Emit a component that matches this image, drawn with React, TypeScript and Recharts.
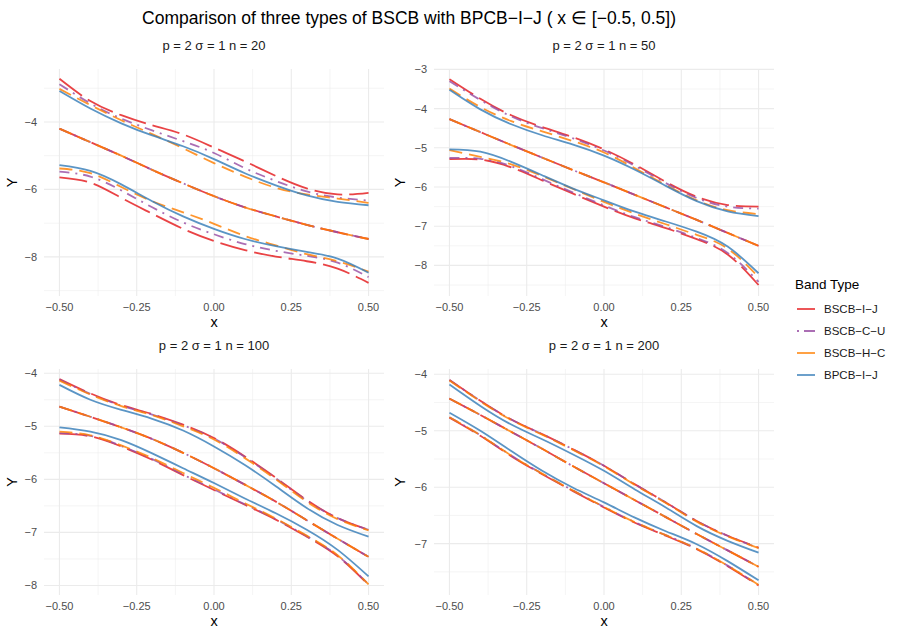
import React from 'react';
import { LineChart, Line, XAxis, YAxis, CartesianGrid } from 'recharts';

const FONT = '"Liberation Sans", Arial, Helvetica, sans-serif';
const MINUS = '\u2212';

const XS = [-0.5, -0.4, -0.3, -0.2, -0.1, 0, 0.1, 0.2, 0.3, 0.4, 0.5];
const X_TICKS = [-0.5, -0.25, 0, 0.25, 0.5];
const X_MINOR = [-0.375, -0.125, 0.125, 0.375];

// n = 20
const N20_CENTER = [-4.2, -4.6, -5.0, -5.42, -5.82, -6.2, -6.53, -6.8, -7.05, -7.27, -7.47];
const N20_IJ_UP = [-2.72, -3.38, -3.8, -4.1, -4.37, -4.76, -5.17, -5.6, -5.97, -6.15, -6.1];
const N20_IJ_LO = [-5.64, -5.8, -6.25, -6.72, -7.17, -7.53, -7.8, -7.99, -8.13, -8.35, -8.77];
const N20_CU_UP = [-2.88, -3.45, -3.9, -4.25, -4.57, -4.92, -5.37, -5.75, -6.06, -6.24, -6.33];
const N20_CU_LO = [-5.47, -5.62, -6.03, -6.53, -6.98, -7.33, -7.62, -7.82, -7.97, -8.17, -8.6];
const N20_HC_UP = [-3.02, -3.5, -3.95, -4.36, -4.78, -5.22, -5.62, -5.95, -6.15, -6.27, -6.4];
const N20_HC_LO = [-5.38, -5.52, -5.93, -6.35, -6.68, -7.02, -7.38, -7.66, -7.92, -8.13, -8.44];
const N20_BP_UP = [-3.08, -3.6, -4.04, -4.4, -4.72, -5.1, -5.52, -5.88, -6.18, -6.37, -6.47];
const N20_BP_LO = [-5.28, -5.45, -5.85, -6.35, -6.8, -7.17, -7.47, -7.68, -7.85, -8.05, -8.47];

// n = 50
const N50_CENTER = [-4.27, -4.6, -4.93, -5.25, -5.57, -5.88, -6.2, -6.52, -6.84, -7.17, -7.5];
const N50_IJ_UP = [-3.25, -3.75, -4.17, -4.47, -4.73, -5.04, -5.43, -5.87, -6.25, -6.46, -6.5];
const N50_IJ_LO = [-5.29, -5.3, -5.5, -5.83, -6.17, -6.5, -6.8, -7.05, -7.33, -7.72, -8.5];
const N50_CU_UP = [-3.3, -3.78, -4.2, -4.5, -4.76, -5.07, -5.46, -5.9, -6.28, -6.5, -6.55];
const N50_CU_LO = [-5.26, -5.28, -5.47, -5.8, -6.14, -6.47, -6.77, -7.02, -7.3, -7.68, -8.42];
const N50_HC_UP = [-3.49, -3.96, -4.32, -4.58, -4.83, -5.12, -5.52, -5.95, -6.34, -6.59, -6.69];
const N50_HC_LO = [-5.06, -5.23, -5.42, -5.72, -6.05, -6.38, -6.68, -6.95, -7.22, -7.57, -8.3];
const N50_BP_UP = [-3.52, -4.02, -4.4, -4.68, -4.92, -5.2, -5.56, -5.97, -6.36, -6.62, -6.74];
const N50_BP_LO = [-5.04, -5.1, -5.36, -5.7, -6.04, -6.34, -6.63, -6.88, -7.14, -7.52, -8.2];

// n = 100
const N100_CENTER = [-4.63, -4.82, -5.02, -5.24, -5.5, -5.79, -6.1, -6.42, -6.77, -7.12, -7.46];
const N100_IJ_UP = [-4.11, -4.38, -4.6, -4.77, -4.97, -5.22, -5.57, -5.97, -6.39, -6.73, -6.95];
const N100_IJ_LO = [-5.14, -5.19, -5.38, -5.63, -5.92, -6.2, -6.48, -6.76, -7.08, -7.45, -7.99];
const N100_CU_UP = [-4.12, -4.39, -4.61, -4.78, -4.98, -5.23, -5.58, -5.98, -6.4, -6.73, -6.95];
const N100_CU_LO = [-5.13, -5.18, -5.37, -5.62, -5.91, -6.19, -6.47, -6.75, -7.07, -7.44, -7.98];
const N100_HC_UP = [-4.14, -4.4, -4.62, -4.79, -5.0, -5.25, -5.6, -6.0, -6.42, -6.75, -6.96];
const N100_HC_LO = [-5.1, -5.17, -5.36, -5.6, -5.88, -6.16, -6.45, -6.74, -7.06, -7.43, -7.98];
const N100_BP_UP = [-4.22, -4.5, -4.69, -4.86, -5.08, -5.38, -5.73, -6.13, -6.54, -6.86, -7.08];
const N100_BP_LO = [-5.02, -5.1, -5.26, -5.51, -5.79, -6.07, -6.36, -6.64, -6.95, -7.33, -7.83];

// n = 200
const N200_CENTER = [-4.43, -4.72, -5.02, -5.32, -5.63, -5.93, -6.23, -6.53, -6.83, -7.12, -7.41];
const N200_IJ_UP = [-4.1, -4.47, -4.8, -5.06, -5.33, -5.62, -5.95, -6.27, -6.6, -6.86, -7.07];
const N200_IJ_LO = [-4.77, -5.09, -5.45, -5.77, -6.07, -6.36, -6.63, -6.86, -7.1, -7.4, -7.74];
const N200_CU_UP = [-4.1, -4.47, -4.8, -5.06, -5.33, -5.62, -5.95, -6.27, -6.6, -6.86, -7.08];
const N200_CU_LO = [-4.76, -5.08, -5.44, -5.76, -6.06, -6.35, -6.62, -6.85, -7.09, -7.39, -7.73];
const N200_HC_UP = [-4.11, -4.48, -4.81, -5.07, -5.34, -5.63, -5.96, -6.28, -6.61, -6.87, -7.08];
const N200_HC_LO = [-4.76, -5.08, -5.44, -5.76, -6.06, -6.35, -6.62, -6.85, -7.09, -7.39, -7.73];
const N200_BP_UP = [-4.18, -4.56, -4.89, -5.15, -5.42, -5.71, -6.04, -6.36, -6.69, -6.95, -7.16];
const N200_BP_LO = [-4.68, -5.0, -5.36, -5.71, -6.01, -6.27, -6.54, -6.78, -7.01, -7.31, -7.65];

const BAND_TYPES = ['BSCB\u2212I\u2212J', 'BSCB\u2212C\u2212U', 'BSCB\u2212H\u2212C', 'BPCB\u2212I\u2212J'];
const BAND_KEYS = ['ij', 'cu', 'hc', 'bp'];
const BAND_COLORS = ['#E41A1C', '#984EA3', '#FF7F00', '#377EB8'];
const BAND_DASH = ['28 7', '10 6 2 6', '13 7', undefined];

const buildRows = (center, s) =>
  XS.map((x, i) => ({
    x,
    center: center[i],
    ij_up: s.ij[0][i], ij_lo: s.ij[1][i],
    cu_up: s.cu[0][i], cu_lo: s.cu[1][i],
    hc_up: s.hc[0][i], hc_lo: s.hc[1][i],
    bp_up: s.bp[0][i], bp_lo: s.bp[1][i],
  }));

const PANELS = [
  {
    title: 'p = 2 \u03c3 = 1 n = 20', left: 0, top: 69, height: 227,
    domain: [-9.16, -2.43], ticks: [-8, -6, -4], minor: [-9, -7, -5, -3],
    rows: buildRows(N20_CENTER, { ij: [N20_IJ_UP, N20_IJ_LO], cu: [N20_CU_UP, N20_CU_LO], hc: [N20_HC_UP, N20_HC_LO], bp: [N20_BP_UP, N20_BP_LO] }),
  },
  {
    title: 'p = 2 \u03c3 = 1 n = 50', left: 390, top: 69, height: 227,
    domain: [-8.78, -2.99], ticks: [-8, -7, -6, -5, -4, -3], minor: [-8.5, -7.5, -6.5, -5.5, -4.5, -3.5],
    rows: buildRows(N50_CENTER, { ij: [N50_IJ_UP, N50_IJ_LO], cu: [N50_CU_UP, N50_CU_LO], hc: [N50_HC_UP, N50_HC_LO], bp: [N50_BP_UP, N50_BP_LO] }),
  },
  {
    title: 'p = 2 \u03c3 = 1 n = 100', left: 0, top: 369, height: 226,
    domain: [-8.18, -3.92], ticks: [-8, -7, -6, -5, -4], minor: [-7.5, -6.5, -5.5, -4.5],
    rows: buildRows(N100_CENTER, { ij: [N100_IJ_UP, N100_IJ_LO], cu: [N100_CU_UP, N100_CU_LO], hc: [N100_HC_UP, N100_HC_LO], bp: [N100_BP_UP, N100_BP_LO] }),
  },
  {
    title: 'p = 2 \u03c3 = 1 n = 200', left: 390, top: 369, height: 226,
    domain: [-7.91, -3.906], ticks: [-7, -6, -5, -4], minor: [-7.5, -6.5, -5.5, -4.5],
    rows: buildRows(N200_CENTER, { ij: [N200_IJ_UP, N200_IJ_LO], cu: [N200_CU_UP, N200_CU_LO], hc: [N200_HC_UP, N200_HC_LO], bp: [N200_BP_UP, N200_BP_LO] }),
  },
];

const Y_AXIS_W = 44;
const PLOT_W = 340;
const X_AXIS_H = 30;
const PAD_TOP = 12; // room so the top tick label is not clipped

const fmtX = (v: number) => (v < 0 ? MINUS : '') + Math.abs(v).toFixed(2);
const fmtY = (v: number) => (v < 0 ? MINUS : '') + Math.abs(v);

const tickStyle = { fill: '#4D4D4D', fontSize: 11, fontFamily: FONT };

const Panel = ({ p }) => {
  const lines = [];
  BAND_KEYS.forEach((k, i) => {
    const common = {
      type: 'natural' as const,
      stroke: BAND_COLORS[i],
      strokeOpacity: 0.82,
      strokeWidth: 1.8,
      strokeDasharray: BAND_DASH[i],
      dot: false,
      activeDot: false,
      isAnimationActive: false,
    };
    lines.push(<Line key={k + '_up'} dataKey={k + '_up'} {...common} />);
    lines.push(<Line key={k + '_lo'} dataKey={k + '_lo'} {...common} />);
    if (k !== 'bp') lines.push(<Line key={k + '_c'} dataKey="center" {...common} />);
  });
  return (
    <div style={{ position: 'absolute', left: p.left, top: p.top - PAD_TOP }}>
      <LineChart width={Y_AXIS_W + PLOT_W} height={p.height + X_AXIS_H + PAD_TOP} data={p.rows}
        margin={{ top: PAD_TOP, right: 0, bottom: 0, left: 0 }}>
        <CartesianGrid stroke="#EBEBEB" strokeWidth={0.55} horizontalValues={p.minor} verticalValues={X_MINOR} />
        <CartesianGrid stroke="#EBEBEB" strokeWidth={1.1} horizontalValues={p.ticks} verticalValues={X_TICKS} />
        <XAxis type="number" dataKey="x" domain={[-0.55, 0.55]} ticks={X_TICKS} interval={0}
          allowDataOverflow axisLine={false} tickLine={false} tickSize={4} tickMargin={3}
          height={X_AXIS_H} tick={tickStyle} tickFormatter={fmtX} />
        <YAxis type="number" domain={p.domain} ticks={p.ticks} interval={0} allowDataOverflow
          axisLine={false} tickLine={false} tickSize={4} tickMargin={3} width={Y_AXIS_W}
          tick={tickStyle} tickFormatter={fmtY} />
        {lines}
      </LineChart>
    </div>
  );
};

const App = () => {
  const legendY = [309, 331, 353, 375];
  return (
    <div style={{ position: 'absolute', left: 0, top: 0, width: 899, height: 633, background: '#fff', fontFamily: FONT }}>
      {PANELS.map((p, i) => <Panel key={i} p={p} />)}
      <svg width={899} height={633} style={{ position: 'absolute', left: 0, top: 0, pointerEvents: 'none' }}>
        <text x={409} y={24} textAnchor="middle" fontSize={17.5} fill="#000" fontFamily={FONT}>
          {'Comparison of three types of BSCB with BPCB\u2212I\u2212J ( x \u2208 [\u22120.5, 0.5])'}
        </text>
        {PANELS.map((p, i) => {
          const cx = p.left + Y_AXIS_W + PLOT_W / 2;
          return (
            <g key={i}>
              <text x={cx} y={p.top - 19} textAnchor="middle" fontSize={13} fill="#1A1A1A" fontFamily={FONT}>{p.title}</text>
              <text x={cx} y={p.top + p.height + 31} textAnchor="middle" fontSize={14.5} fill="#000" fontFamily={FONT}>x</text>
              <text x={0} y={0} textAnchor="middle" fontSize={14.5} fill="#000" fontFamily={FONT}
                transform={`translate(${p.left === 0 ? 17 : 405}, ${p.top + p.height / 2}) rotate(-90)`}>Y</text>
            </g>
          );
        })}
        <text x={795} y={289} fontSize={13.5} fill="#000" fontFamily={FONT}>Band Type</text>
        {BAND_TYPES.map((name, i) => (
          <g key={name}>
            <line x1={797} x2={815} y1={legendY[i]} y2={legendY[i]} stroke={BAND_COLORS[i]} strokeOpacity={0.82}
              strokeWidth={1.8} strokeDasharray={i === 1 ? '2 5 11 0' : undefined} />
            <text x={824} y={legendY[i] + 4} fontSize={11.5} fill="#1A1A1A" fontFamily={FONT}>{name}</text>
          </g>
        ))}
      </svg>
    </div>
  );
};

export default App;
